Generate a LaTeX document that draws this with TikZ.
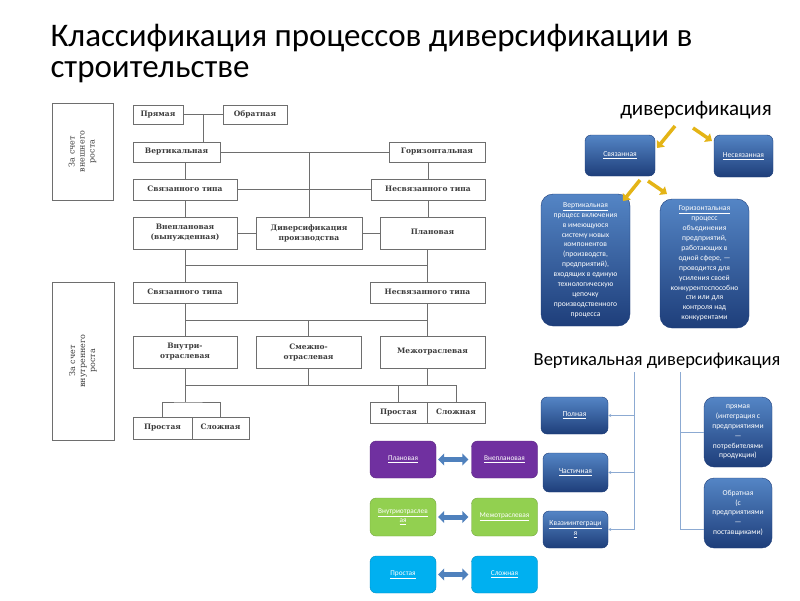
\documentclass[tikz,border=0pt]{standalone}
\usepackage{fontspec}
\setmainfont{Carlito}
\newfontfamily\schemefont{DejaVu Serif}
\usetikzlibrary{arrows.meta,calc}

\definecolor{linegray}{RGB}{110,110,110}
\definecolor{textgray}{RGB}{60,60,60}
\definecolor{boxtop}{RGB}{84,133,197}
\definecolor{boxbot}{RGB}{30,62,122}
\definecolor{arrowyel}{RGB}{228,180,22}
\definecolor{bracketblue}{RGB}{140,170,210}
\definecolor{purplebox}{RGB}{112,48,160}
\definecolor{greenbox}{RGB}{146,208,80}
\definecolor{cyanbox}{RGB}{0,176,240}
\definecolor{dblarrow}{RGB}{79,129,189}

\tikzset{
  lbox/.style={draw=linegray, fill=white, inner sep=1pt, align=center, text=textgray,
    font=\schemefont\bfseries\fontsize{7.5}{10}\selectfont},
  onerow/.style={text height=5.5pt, text depth=1.6pt},
  sidebox/.style={draw=linegray, inner sep=1pt, align=center, text=textgray, rotate=90,
    font=\schemefont\fontsize{8}{10}\selectfont},
  conn/.style={draw=linegray, line width=0.8pt},
  bluebox/.style={rounded corners=6pt, top color=boxtop, bottom color=boxbot, draw=boxbot,
    text=white, align=center, inner sep=1pt, font=\fontsize{7.6}{9.9}\selectfont},
  colbox/.style={rounded corners=6pt, fill=#1, draw=#1!80!black, text=white, align=center,
    inner sep=1pt, minimum width=66pt, minimum height=37pt, font=\fontsize{7.3}{9}\selectfont},
  yarrow/.style={draw=arrowyel, line width=3.5pt, -{Triangle[length=6pt,width=10pt]}},
  dblarr/.style={draw=dblarrow, line width=5pt, shorten <=2pt, shorten >=3pt,
    {Triangle[length=6pt,width=12pt]}-{Triangle[length=6pt,width=12pt]}},
  brk/.style={draw=bracketblue, line width=0.8pt}
}

\begin{document}
\begin{tikzpicture}[x=1pt,y=-1pt]
\useasboundingbox[fill=white] (0,0) rectangle (800,600);

% title
\node[anchor=base west, font=\fontsize{33}{33}\selectfont] (title1) at (47,46) {Классификация процессов диверсификации в};
\node[anchor=base west, font=\fontsize{33}{33}\selectfont] (title2) at (47,77) {строительстве};

% left scheme, upper part
\node[sidebox, minimum width=97pt, minimum height=61pt] (ext) at (82.5,151.5) {За счет\\внешнего\\роста};
\node[lbox, onerow, minimum width=50pt, minimum height=19pt] (pr) at (158,114.5) {Прямая};
\node[lbox, onerow, minimum width=64pt, minimum height=19pt] (ob) at (255,114.5) {Обратная};
\node[lbox, onerow, minimum width=87pt, minimum height=20pt] (vert) at (176.5,152) {Вертикальная};
\node[lbox, onerow, minimum width=96pt, minimum height=20pt] (hor) at (437,152) {Горизонтальная};
\node[lbox, onerow, minimum width=104pt, minimum height=21pt] (sv1) at (185,189.5) {Связанного типа};
\node[lbox, onerow, minimum width=114pt, minimum height=21pt] (nsv1) at (428,189.5) {Несвязанного типа};
\node[lbox, minimum width=104pt, minimum height=32pt] (vnepl) at (185,233) {Внеплановая\\(вынужденная)};
\node[lbox, minimum width=106pt, minimum height=32pt] (div) at (309,233) {Диверсификация\\производства};
\node[lbox, onerow, minimum width=105pt, minimum height=32pt] (pl) at (432.5,233) {Плановая};

\coordinate (mid1) at ($(pr.east)!0.5!(ob.west)$);
\draw[conn] (pr) -- (ob);
\draw[conn] (mid1) -- (mid1 |- vert.north);
\draw[conn] (vert) -- (hor);
\draw[conn] (div.north) -- (div.north |- vert.east);
\draw[conn] (sv1.north |- vert.south) -- (sv1.north);
\draw[conn] (nsv1.north |- hor.south) -- (nsv1.north);
\draw[conn] (sv1) -- (nsv1);
\draw[conn] (sv1) -- (vnepl);
\draw[conn] (nsv1.south) -- (nsv1.south |- pl.north);
\draw[conn] (vnepl) -- (div) -- (pl);

% left scheme, lower part
\node[sidebox, minimum width=158pt, minimum height=62pt] (int) at (83,361) {За счет\\внутреннего\\роста};
\node[lbox, onerow, minimum width=104pt, minimum height=21pt] (sv2) at (185,292.5) {Связанного типа};
\node[lbox, onerow, minimum width=115pt, minimum height=21pt] (nsv2) at (427.5,292.5) {Несвязанного типа};
\node[lbox, minimum width=104pt, minimum height=32pt] (vnu) at (185,352) {Внутри-\\отраслевая};
\node[lbox, minimum width=105pt, minimum height=32pt] (smzh) at (308.5,352) {Смежно-\\отраслевая};
\node[lbox, onerow, minimum width=105pt, minimum height=32pt] (mezh) at (432.5,352) {Межотраслевая};
\node[lbox, onerow, minimum width=59pt, minimum height=22pt] (prL) at (162.5,428) {Простая};
\node[lbox, onerow, minimum width=57pt, minimum height=22pt] (slL) at (220.5,428) {Сложная};
\node[lbox, onerow, minimum width=57pt, minimum height=21pt] (prR) at (398.5,412.5) {Простая};
\node[lbox, onerow, minimum width=58pt, minimum height=21pt] (slR) at (456,412.5) {Сложная};

\coordinate (j1) at (185,265);
\coordinate (j2) at (427,265);
\draw[conn] (vnepl.south) -- (j1) -- (j2) -- (j2 |- pl.south);
\draw[conn] (j1) -- (sv2.north);
\draw[conn] (j2) -- (j2 |- nsv2.north);
\coordinate (j3) at (185,320);
\coordinate (j4) at (427,320);
\draw[conn] (sv2.south) -- (j3) -- (j4) -- (j4 |- nsv2.south);
\draw[conn] (j3) -- (vnu.north);
\draw[conn] (j3 -| smzh.north) -- (smzh.north);
\draw[conn] (j4) -- (j4 |- mezh.north);
\coordinate (j5) at (185,385);
\coordinate (j6) at (456,385);
\coordinate (j7) at (185,402);
\draw[conn] (vnu.south) -- (j5) -- (j6) -- (slR.north);
\draw[conn] (smzh.south) -- (smzh.south |- j5);
\draw[conn] (j4 |- mezh.south) -- (j4 |- j5);
\draw[conn] (prR.north) -- (prR.north |- j5);
\draw[conn] (j5) -- (j7);
\draw[conn] (prL.north) |- (j7) -| (slL.north);

% diversification, top right
\node[font=\fontsize{21}{21}\selectfont] (dtitle) at (696,110) {диверсификация};
\node[bluebox, minimum width=70pt, minimum height=41pt] (svz) at (620,155.5) {\underline{Связанная}};
\node[bluebox, minimum width=59pt, minimum height=42pt] (nsvz) at (743.5,156) {\underline{Несвязанная}};
\node[bluebox, rounded corners=12pt, minimum width=89pt, minimum height=132pt] (vrt) at (585.5,260)
  {\underline{Вертикальная}\\процесс включения\\в имеющуюся\\систему новых\\компонентов\\(производств,\\предприятий),\\входящих в единую\\технологическую\\цепочку\\производственного\\процесса};
\node[bluebox, rounded corners=12pt, minimum width=89pt, minimum height=129pt] (grz) at (704.5,263.5)
  {\underline{Горизонтальная}\\процесс\\объединения\\предприятий,\\работающих в\\одной сфере, —\\проводится для\\усиления своей\\конкурентоспособно\\сти или  для\\контроля над\\конкурентами};

\coordinate (ya1) at (675,126);
\coordinate (ya2) at (693,128);
\coordinate (ya3) at (640,180);
\coordinate (ya4) at (648,181);
\draw[yarrow] (ya1) -- (657,148);
\draw[yarrow] (ya2) -- (712,141);
\draw[yarrow] (ya3) -- (623,201);
\draw[yarrow] (ya4) -- (667,194);

% vertical diversification, bottom right
\node[font=\fontsize{18.5}{18.5}\selectfont] (vtitle) at (657,361) {Вертикальная диверсификация};
\node[bluebox, minimum width=67pt, minimum height=37pt] (poln) at (574.5,415.5) {\underline{Полная}};
\node[bluebox, minimum width=65pt, minimum height=39pt] (chast) at (575.5,472.5) {\underline{Частичная}};
\node[bluebox, minimum width=65pt, minimum height=37pt] (kvazi) at (575.5,529.5) {\underline{Квазиинтеграци}\\\underline{я}};
\node[bluebox, rounded corners=10pt, minimum width=68pt, minimum height=70pt] (pryam) at (738,432)
  {прямая\\(интеграция с\\предприятиями\\—\\потребителями\\продукции)};
\node[bluebox, rounded corners=10pt, minimum width=68pt, minimum height=70pt] (obr) at (738,513)
  {Обратная\\(с\\предприятиями\\—\\поставщиками)};

\coordinate (bt1) at (634,372);
\coordinate (bt2) at (680,372);
\coordinate (bb2) at (680,529);
\draw[brk] (bt1) -- (bt1 |- kvazi.east);
\draw[brk, -{Stealth[length=3pt,width=3pt]}] (bt1 |- poln.east) -- (poln.east);
\draw[brk, -{Stealth[length=3pt,width=3pt]}] (bt1 |- chast.east) -- (chast.east);
\draw[brk, -{Stealth[length=3pt,width=3pt]}] (bt1 |- kvazi.east) -- (kvazi.east);
\draw[brk] (bt2) -- (bb2) -- (bb2 -| obr.west);
\draw[brk] (bt2 |- pryam.west) -- (pryam.west);

% colored pairs
\node[colbox=purplebox] (plan) at (403,459.5) {\underline{Плановая}};
\node[colbox=purplebox] (vnepl2) at (504.5,459.5) {\underline{Внеплановая}};
\node[colbox=greenbox, minimum height=38pt] (vnutr) at (403,517) {\underline{Внутриотраслев}\\\underline{ая}};
\node[colbox=greenbox, minimum height=38pt] (mezh2) at (504.5,517) {\underline{Межотраслевая}};
\node[colbox=cyanbox] (prost) at (403,574.5) {\underline{Простая}};
\node[colbox=cyanbox] (slozh) at (504.5,574.5) {\underline{Сложная}};
\draw[dblarr] (plan) -- (vnepl2);
\draw[dblarr] (vnutr) -- (mezh2);
\draw[dblarr] (prost) -- (slozh);
\end{tikzpicture}
\end{document}
